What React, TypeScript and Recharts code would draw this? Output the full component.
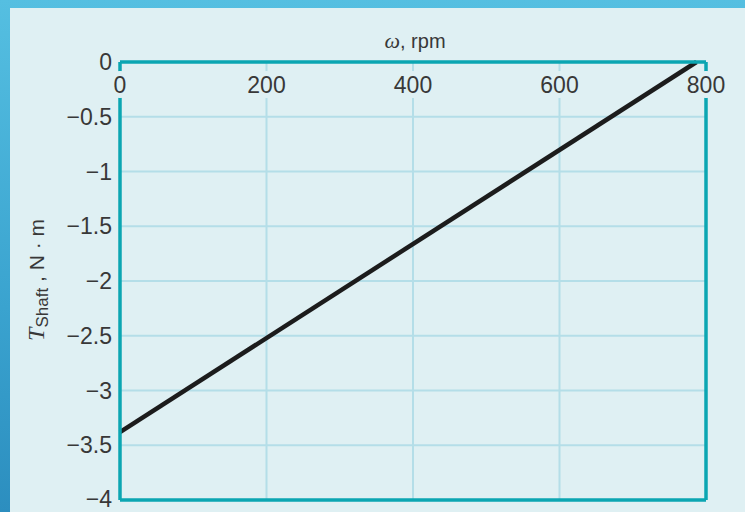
import React from "react";
import { LineChart, Line, XAxis, YAxis, CartesianGrid, ReferenceLine, Label } from "recharts";

const speedRpm = [0, 787];
const shaftTorque = [-3.38, 0];
const xTicks = [0, 200, 400, 600, 800];
const yTicks = [0, -0.5, -1, -1.5, -2, -2.5, -3, -3.5, -4];

const data = speedRpm.map((w, i) => ({ w, t: shaftTorque[i] }));

const BG = "#dff0f3";
const TEAL = "#0ba6b2";
const GRID = "#b4dee8";
const TEXT = "#383838";
const SANS = "'Liberation Sans', Arial, sans-serif";

const fmt = (v: number) => (v < 0 ? "\u2212" + String(Math.abs(v)) : String(v));

function XTick(props: any) {
  const { x, y, payload } = props;
  return (
    <text
      x={x}
      y={y + 31}
      textAnchor="middle"
      fontFamily={SANS}
      fontSize={23}
      fill={TEXT}
      stroke={BG}
      strokeWidth={10}
      strokeLinejoin="round"
      paintOrder="stroke"
    >
      {payload.value}
    </text>
  );
}

function YLabel() {
  return (
    <text
      transform="translate(44 280) rotate(-90)"
      textAnchor="middle"
      fontFamily={SANS}
      fontSize={21}
      fill={TEXT}
    >
      <tspan fontFamily="'Liberation Serif', serif" fontStyle="italic" fontSize={24}>T</tspan>
      <tspan fontSize={17} dy={4}>Shaft</tspan>
      <tspan dy={-4}> , N · m</tspan>
    </text>
  );
}

export default function App() {
  return (
    <div
      style={{
        position: "absolute",
        left: 0,
        top: 0,
        width: 745,
        height: 512,
        background: "linear-gradient(180deg, #55bfe1 0%, #3aa3cf 60%, #2c8ebf 100%)",
      }}
    >
      <div style={{ position: "absolute", left: 10, top: 8, width: 735, height: 504, background: BG }} />
      <div style={{ position: "absolute", left: 0, top: 0 }}>
        <LineChart width={745} height={512} data={data} margin={{ top: 32, right: 39, bottom: 12, left: 0 }}>
          <CartesianGrid stroke={GRID} strokeWidth={2} />
          <ReferenceLine x={800} stroke={TEAL} strokeWidth={3.5} ifOverflow="extendDomain" />
          <ReferenceLine y={-4} stroke={TEAL} strokeWidth={3.5} ifOverflow="extendDomain" />
          <YAxis
            type="number"
            dataKey="t"
            domain={[-4, 0]}
            ticks={yTicks}
            width={120}
            tickLine={false}
            axisLine={{ stroke: TEAL, strokeWidth: 3.5 }}
            tickFormatter={fmt}
            tick={{ fontFamily: SANS, fontSize: 23, fill: TEXT }}
          >
            <Label content={<YLabel />} />
          </YAxis>
          <XAxis
            type="number"
            dataKey="w"
            orientation="top"
            domain={[0, 800]}
            ticks={xTicks}
            height={30}
            tickSize={0}
            tickMargin={0}
            tickLine={false}
            axisLine={{ stroke: TEAL, strokeWidth: 3.5 }}
            tick={<XTick />}
          >
            <Label
              position="top"
              content={(p: any) => {
                const vb = p.viewBox;
                return (
                  <text x={vb.x + vb.width / 2 + 2} y={vb.y + 16} textAnchor="middle" fontFamily={SANS} fontSize={20} fill={TEXT}>
                    <tspan fontFamily="'Liberation Serif', serif" fontStyle="italic" fontSize={22}>ω</tspan>
                    <tspan>, rpm</tspan>
                  </text>
                );
              }}
            />
          </XAxis>
          <Line
            type="linear"
            dataKey="t"
            stroke="#1c1c1c"
            strokeWidth={4.5}
            dot={false}
            isAnimationActive={false}
          />
        </LineChart>
      </div>
    </div>
  );
}
